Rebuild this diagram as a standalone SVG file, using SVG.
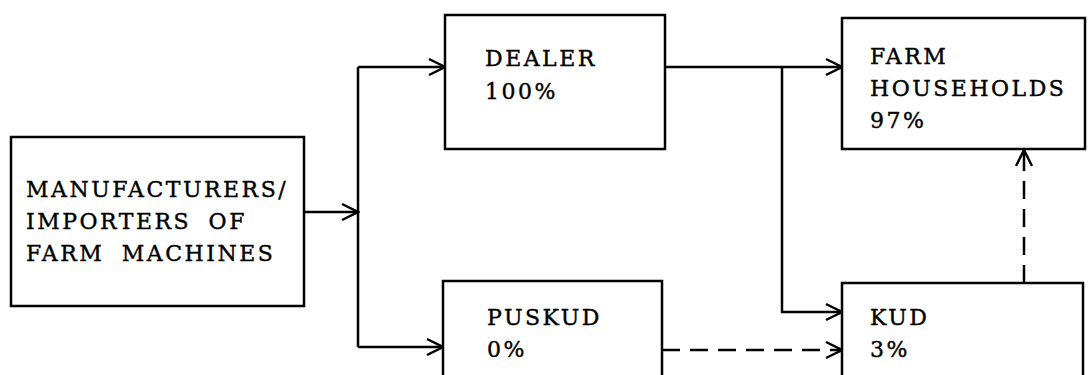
<svg xmlns="http://www.w3.org/2000/svg" width="1089" height="375" viewBox="0 0 1089 375">
<style>
.box{fill:#fff;stroke:#000;stroke-width:2.5}
.t{font-family:"DejaVu Serif","Liberation Serif",serif;font-size:22px;letter-spacing:2.5px;word-spacing:8px;fill:#000;stroke:#000;stroke-width:0.4}
.c{fill:none;stroke:#000;stroke-width:2.5}
.d{stroke-dasharray:18 10}
</style>
<defs>
<marker id="ah" viewBox="0 0 20 20" refX="18" refY="10" markerWidth="20" markerHeight="20" markerUnits="userSpaceOnUse" orient="auto">
<path d="M2,2 L18,10 L2,18" fill="none" stroke="#000" stroke-width="2.5"/>
</marker>
</defs>
<rect width="1089" height="375" fill="#fff"/>
<g id="connectors">
<path class="c" d="M304,212 L358,212" marker-end="url(#ah)"/>
<path class="c" d="M358,67 L358,347"/>
<path class="c" d="M358,67 L445,67" marker-end="url(#ah)"/>
<path class="c" d="M358,347 L443,347" marker-end="url(#ah)"/>
<path class="c" d="M665,67 L842,67" marker-end="url(#ah)"/>
<path class="c" d="M782,67 L782,312 L842,312" marker-end="url(#ah)"/>
<path class="c d" d="M662,350 L842,350" marker-end="url(#ah)"/>
<path class="c d" d="M1024,283 L1024,150" marker-end="url(#ah)"/>
</g>
<g id="manufacturers">
<rect class="box" x="11" y="137" width="293" height="169"/>
<text class="t" x="26" y="197">MANUFACTURERS/</text>
<text class="t" x="26" y="229">IMPORTERS OF</text>
<text class="t" x="26" y="261">FARM MACHINES</text>
</g>
<g id="dealer">
<rect class="box" x="445" y="15" width="220" height="134"/>
<text class="t" x="485" y="66">DEALER</text>
<text class="t" x="485" y="99">100%</text>
</g>
<g id="farm">
<rect class="box" x="842" y="18" width="243" height="131"/>
<text class="t" x="870" y="64">FARM</text>
<text class="t" x="870" y="96">HOUSEHOLDS</text>
<text class="t" x="870" y="128">97%</text>
</g>
<g id="puskud">
<rect class="box" x="443" y="281" width="219" height="110"/>
<text class="t" x="487" y="325">PUSKUD</text>
<text class="t" x="487" y="357">0%</text>
</g>
<g id="kud">
<rect class="box" x="842" y="283" width="241" height="110"/>
<text class="t" x="870" y="325">KUD</text>
<text class="t" x="870" y="357">3%</text>
</g>
</svg>
